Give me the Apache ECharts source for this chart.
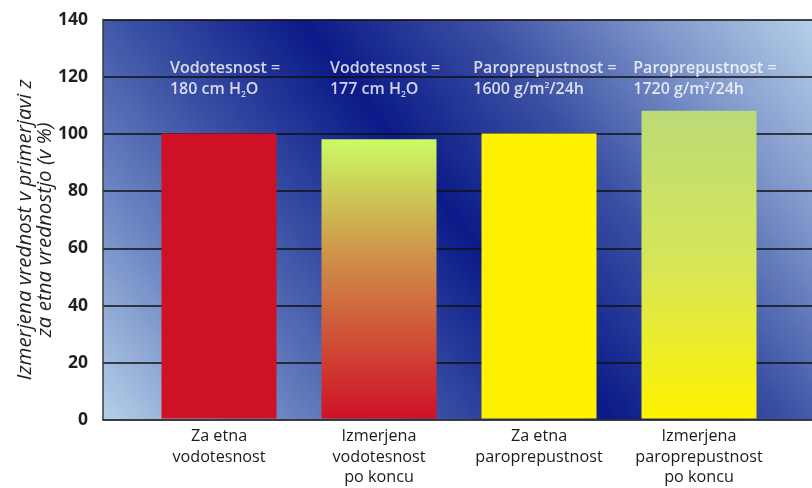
<!DOCTYPE html>
<html><head><meta charset="utf-8">
<script src="https://cdn.jsdelivr.net/npm/echarts@6/dist/echarts.min.js"></script>
<style>html,body{margin:0;padding:0;background:#fff}#c{width:812px;height:488px}</style>
</head><body><div id="c"></div>
<script>
// ---- data ----
const categories = ['Za etna\nvodotesnost', 'Izmerjena\nvodotesnost\npo koncu', 'Za etna\nparoprepustnost', 'Izmerjena\nparoprepustnost\npo koncu'];
const values = [100, 98, 100, 108];
const yTickLabels = ['0', '20', '40', '60', '80', '100', '120', '140'];
const noteTitles = ['Vodotesnost =', 'Vodotesnost =', 'Paroprepustnost =', 'Paroprepustnost ='];
const noteHeads = ['180 cm H', '177 cm H', '1600 g/m', '1720 g/m'];
const noteScripts = ['2', '2', '2', '2'];
const noteScriptKinds = ['sub', 'sub', 'sup', 'sup'];
const noteTails = ['O', 'O', '/24h', '/24h'];
const yAxisTitle = 'Izmerjena vrednost v primerjavi z\nza etna vrednostjo (v %)';

// ---- styles ----
const FONT = '"Open Sans", "Noto Sans", sans-serif';
const G = (stops, x, y, x2, y2) => new echarts.graphic.LinearGradient(x, y, x2, y2, stops.map(s => ({offset: s[0], color: s[1]})));
const barFills = [
  '#cf1126',
  G([[0, '#cbfb62'], [0.45, '#cf8a48'], [1, '#cf1126']], 0, 0, 0, 1),
  '#fff200',
  G([[0, '#bcdb78'], [0.5, '#d6e658'], [1, '#fff200']], 0, 0, 0, 1)
];
const bg = new echarts.graphic.LinearGradient(-0.169, 0.6145, 0.7286, -0.62, [
  {offset: 0, color: '#b4d0e8'},
  {offset: 0.17, color: '#7088c4'},
  {offset: 0.33, color: '#3a50a4'},
  {offset: 0.498, color: '#0b1a88'},
  {offset: 0.67, color: '#3a4fa3'},
  {offset: 0.84, color: '#7e96ca'},
  {offset: 1, color: '#b4d0e8'}
]);

const chart = echarts.init(document.getElementById('c'), null, {renderer: 'canvas'});
const yMax = 140, yStep = 20;
chart.setOption({
  animation: false,
  grid: [
    {left: 103, right: 0, top: 19.6, bottom: 68, show: true, backgroundColor: bg, borderWidth: 0},
    {left: 139, width: 640, top: 19.6, bottom: 68}
  ],
  xAxis: [
    {gridIndex: 0, type: 'category', data: ['a'], show: true, axisLine: {show: true, lineStyle: {color: '#3a3a3a', width: 1.5}}, axisTick: {show: false}, axisLabel: {show: false}},
    {gridIndex: 1, type: 'category', data: categories, axisLine: {show: false}, axisTick: {show: false},
      axisLabel: {color: '#1e1a1b', fontFamily: FONT, fontWeight: 500, fontSize: 16.2, lineHeight: 20.5, margin: 8, interval: 0}}
  ],
  yAxis: [
    {gridIndex: 0, type: 'value', min: 0, max: yMax, interval: yStep,
      axisLine: {show: true, lineStyle: {color: '#3a3a3a', width: 1.5}}, axisTick: {show: false},
      splitLine: {show: true, lineStyle: {color: '#111', width: 1.5}},
      axisLabel: {color: '#231f20', fontFamily: FONT, fontWeight: 'bold', fontSize: 17.5, margin: 15,
        formatter: (v) => yTickLabels[Math.round(v / yStep)]},
      name: yAxisTitle, nameLocation: 'middle', nameGap: 48, nameRotate: 90, nameMoveOverlap: false,
      nameTextStyle: {color: '#231f20', fontFamily: FONT, fontStyle: 'italic', fontSize: 20.5, lineHeight: 20, padding: [0, 20, 0, 0]}},
    {gridIndex: 1, type: 'value', min: 0, max: yMax, interval: yStep, show: false, splitLine: {show: false}}
  ],
  series: [
    {type: 'bar', xAxisIndex: 1, yAxisIndex: 1, barWidth: 115,
      data: values.map((v, i) => ({value: v, itemStyle: {color: barFills[i]}}))},
    {type: 'scatter', xAxisIndex: 1, yAxisIndex: 1, symbolSize: 0, silent: true,
      data: noteTitles.map((t, i) => [i, 119]),
      label: {show: true, position: 'inside', offset: [6, 0], align: 'center',
        formatter: (p) => {
          const i = p.dataIndex;
          return '{t|' + noteTitles[i] + '}\n{t|' + noteHeads[i] + '}{' + noteScriptKinds[i] + '|' + noteScripts[i] + '}{t|' + noteTails[i] + '}';
        },
        rich: {
          t: {color: '#fff', fontFamily: FONT, fontWeight: 600, fontSize: 16, lineHeight: 21, align: 'left'},
          sub: {color: '#fff', fontFamily: FONT, fontWeight: 600, fontSize: 8.5, lineHeight: 10, verticalAlign: 'bottom', align: 'left', padding: [0, 0, 1, 0]},
          sup: {color: '#fff', fontFamily: FONT, fontWeight: 600, fontSize: 8.5, lineHeight: 10, verticalAlign: 'top', align: 'left', padding: [2, 0, 0, 0]}
        }}}
  ]
});
</script></body></html>
